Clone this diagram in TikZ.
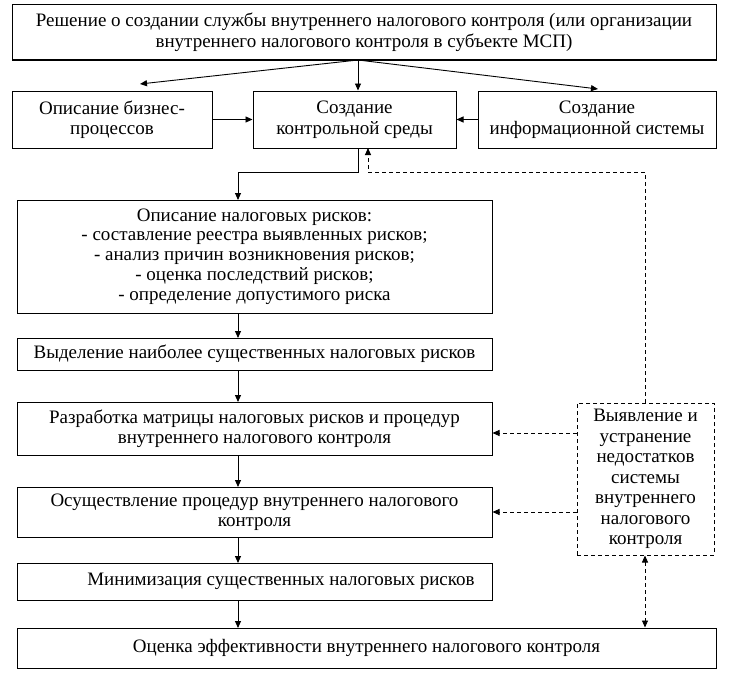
\documentclass[tikz,border=0pt]{standalone}
\usepackage{fontspec}
\setmainfont{Liberation Serif}
\usetikzlibrary{arrows.meta}
\begin{document}
\begin{tikzpicture}[x=1pt,y=-1pt,
  box/.style={draw,line width=1pt,inner sep=1pt,align=center,font=\fontsize{19}{20.5}\selectfont},
  arr/.style={line width=0.9pt,-{Triangle[length=7pt,width=6pt]}},
  darr/.style={line width=0.9pt,dash pattern=on 4pt off 3pt,-{Triangle[length=7pt,width=6pt]}},
  ddarr/.style={line width=0.9pt,dash pattern=on 4pt off 3pt,{Triangle[length=7pt,width=6pt]}-{Triangle[length=7pt,width=6pt]}}]
\useasboundingbox (0,0) rectangle (730,677);
\node[box,minimum width=704pt,minimum height=55pt] (top) at (364,32.5)
  {Решение о создании службы внутреннего налогового контроля (или организации\\внутреннего налогового контроля в субъекте МСП)};
\node[box,minimum width=200pt,minimum height=57pt] (b1) at (112,119.5) {Описание бизнес-\\процессов};
\node[box,minimum width=203pt,minimum height=57pt] (b2) at (354.5,119.5) {Создание\\контрольной среды};
\node[box,minimum width=238pt,minimum height=57pt] (b3) at (597,119.5) {Создание\\информационной системы};
\node[box,minimum width=475pt,minimum height=113pt,font=\fontsize{19}{19.8}\selectfont] (desc) at (254.5,256.5)
  {Описание налоговых рисков:\\- составление реестра выявленных рисков;\\- анализ причин возникновения рисков;\\- оценка последствий рисков;\\- определение допустимого риска};
\node[box,minimum width=475pt,minimum height=32pt] (vyd) at (254.5,354) {Выделение наиболее существенных налоговых рисков};
\node[box,minimum width=475pt,minimum height=53pt] (razr) at (254.5,428.5) {Разработка матрицы налоговых рисков и процедур\\внутреннего налогового контроля};
\node[box,minimum width=475pt,minimum height=50pt] (osu) at (254.5,512) {Осуществление процедур внутреннего налогового\\контроля};
\node[box,minimum width=475pt,minimum height=37pt] (min) at (254.5,581.5) {};
\node[font=\fontsize{19}{20.5}\selectfont,inner sep=0pt] (mint) at (281,581.5) {Минимизация существенных налоговых рисков};
\node[box,minimum width=699pt,minimum height=40pt] (oc) at (366.5,648) {Оценка эффективности внутреннего налогового контроля};
\node[box,dash pattern=on 4pt off 3pt,minimum width=137pt,minimum height=152pt] (vyav) at (645.5,479)
  {Выявление и\\устранение\\недостатков\\системы\\внутреннего\\налогового\\контроля};
% arrows from top
\coordinate (ts) at (358,60);
\coordinate (e1) at (140,84);
\coordinate (e3) at (598,89);
\draw[arr] (ts) -- (e1);
\draw[arr] (ts) -- (b2.north -| ts);
\draw[arr] (ts) -- (e3);
\draw[arr] (b1.east) -- (b2.west);
\draw[arr] (b3.west) -- (b2.east);
% b2 to desc
\coordinate (s2) at (358,148);
\draw[arr] (s2) -- (358,172) -- (238,172) -- (238,200);
\draw[arr] (238,313) -- (238,338);
\draw[arr] (238,370) -- (238,402);
\draw[arr] (238,455) -- (238,487);
\draw[arr] (238,537) -- (238,563);
\draw[arr] (238,600) -- (238,628);
% dashed
\draw[darr] (vyav.north -| 645,0) -- (645,172) -- (368,172) -- (368,148);
\draw[darr] (vyav.west |- 0,433) -- (razr.east |- 0,433);
\draw[darr] (vyav.west |- 0,512) -- (osu.east |- 0,512);
\draw[ddarr] (vyav.south -| 645,0) -- (oc.north -| 645,0);
\end{tikzpicture}
\end{document}
